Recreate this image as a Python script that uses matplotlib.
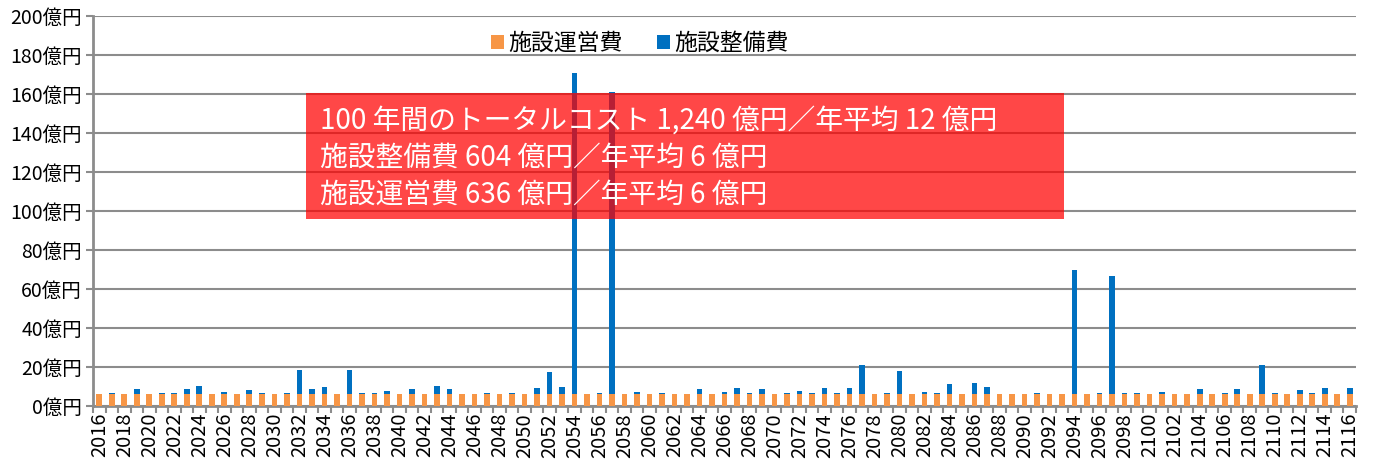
import matplotlib
matplotlib.use("Agg")
import matplotlib.pyplot as plt
from matplotlib.patches import Rectangle

plt.rcParams['font.family'] = ['Noto Sans CJK JP', 'DejaVu Sans']

years = list(range(2016, 2117))

# 施設運営費 (億円)
operation = [
    6.3, 6.3, 6.3, 6.3, 6.3, 6.3, 6.3, 6.3, 6.3, 6.3,   # 2016-2025
    6.3, 6.3, 6.3, 6.3, 6.3, 6.3, 6.3, 6.3, 6.3, 6.3,   # 2026-2035
    6.3, 6.3, 6.3, 6.3, 6.3, 6.3, 6.3, 6.3, 6.3, 6.3,   # 2036-2045
    6.3, 6.3, 6.3, 6.3, 6.3, 6.3, 6.3, 6.3, 6.3, 6.3,   # 2046-2055
    6.3, 6.3, 6.3, 6.3, 6.3, 6.3, 6.3, 6.3, 6.3, 6.3,   # 2056-2065
    6.3, 6.3, 6.3, 6.3, 6.3, 6.3, 6.3, 6.3, 6.3, 6.3,   # 2066-2075
    6.3, 6.3, 6.3, 6.3, 6.3, 6.3, 6.3, 6.3, 6.3, 6.3,   # 2076-2085
    6.3, 6.3, 6.3, 6.3, 6.3, 6.3, 6.3, 6.3, 6.3, 6.3,   # 2086-2095
    6.3, 6.3, 6.3, 6.3, 6.3, 6.3, 6.3, 6.3, 6.3, 6.3,   # 2096-2105
    6.3, 6.3, 6.3, 6.3, 6.3, 6.3, 6.3, 6.3, 6.3, 6.3,   # 2106-2115
    6.3,                                                 # 2116
]

# 施設整備費 (億円)
maintenance = [
    0.0, 0.3, 0.0, 2.6, 0.0, 0.5, 0.2, 2.2, 3.8, 0.0,     # 2016-2025
    0.9, 0.0, 1.7, 0.2, 0.0, 0.2, 12.1, 2.2, 3.3, 0.0,    # 2026-2035
    12.3, 0.3, 0.2, 1.5, 0.0, 2.6, 0.0, 4.0, 2.2, 0.0,    # 2036-2045
    0.0, 0.2, 0.0, 0.3, 0.0, 3.1, 11.1, 3.4, 164.5, 0.0,  # 2046-2055
    0.2, 154.7, 0.0, 1.0, 0.0, 0.4, 0.0, 0.0, 2.2, 0.0,   # 2056-2065
    0.8, 2.9, 0.2, 2.2, 0.0, 0.2, 1.2, 0.2, 2.7, 0.2,     # 2066-2075
    2.7, 14.7, 0.0, 0.2, 11.9, 0.0, 0.9, 0.2, 5.0, 0.0,   # 2076-2085
    5.6, 3.4, 0.0, 0.0, 0.0, 0.2, 0.1, 0.1, 63.4, 0.0,    # 2086-2095
    0.3, 60.4, 0.2, 0.6, 0.0, 0.8, 0.0, 0.0, 2.2, 0.0,    # 2096-2105
    0.4, 2.2, 0.0, 14.7, 0.2, 0.0, 1.8, 0.2, 2.7, 0.0,    # 2106-2115
    2.7,                                                  # 2116
]

summary = [
    "100 年間のトータルコスト 1,240 億円／年平均 12 億円",
    "施設整備費 604 億円／年平均 6 億円",
    "施設運営費 636 億円／年平均 6 億円",
]

W, H = 1373, 463
fig = plt.figure(figsize=(W / 100, H / 100), dpi=100)
ax = fig.add_axes([93 / W, 1 - 406 / H, (1356 - 93) / W, (406 - 16) / H])

x = list(range(len(years)))
ax.bar(x, operation, width=0.45, color="#F79646", label="施設運営費", zorder=3)
ax.bar(x, maintenance, width=0.45, bottom=operation, color="#0070C0",
       label="施設整備費", zorder=3)

ax.set_xlim(-0.5, len(years) - 0.5)
ax.set_ylim(0, 200)
ax.set_yticks(range(0, 201, 20))
ax.set_yticklabels([f"{v}億円" for v in range(0, 201, 20)], fontsize=14)
ax.yaxis.grid(True, color="#8c8c8c", lw=1.5, zorder=0)
ax.tick_params(axis="y", length=5, color="#8c8c8c", width=1.5, pad=3)

ax.set_xticks(x[::2])
ax.set_xticklabels([str(y) for y in years[::2]], rotation=90, fontsize=14.5)
ax.set_xticks([i - 0.5 for i in range(len(years) + 1)], minor=True)
ax.tick_params(axis="x", which="major", length=0, pad=5)
ax.tick_params(axis="x", which="minor", length=5, color="#8c8c8c", width=1.5)

for s in ["top", "right"]:
    ax.spines[s].set_visible(False)
for s in ["left", "bottom"]:
    ax.spines[s].set_color("#8c8c8c")
    ax.spines[s].set_linewidth(2)

ax.legend(loc="center", bbox_to_anchor=(0.433, 0.93), ncol=2, frameon=False,
          fontsize=16.5, handlelength=0.55, handleheight=0.55, handletextpad=0.2,
          columnspacing=1.5)

# semi-transparent summary box over the bars
box = Rectangle((306 / W, 1 - 219 / H), (1064 - 306) / W, (219 - 93) / H,
                transform=fig.transFigure, facecolor="red", alpha=0.72,
                edgecolor="none", zorder=10)
fig.patches.append(box)
for i, line in enumerate(summary):
    fig.text(320 / W, 1 - (121 + 37 * i) / H, line, color="white", fontsize=20,
             va="center", ha="left", zorder=11)

fig.savefig("out.png", dpi=100)
